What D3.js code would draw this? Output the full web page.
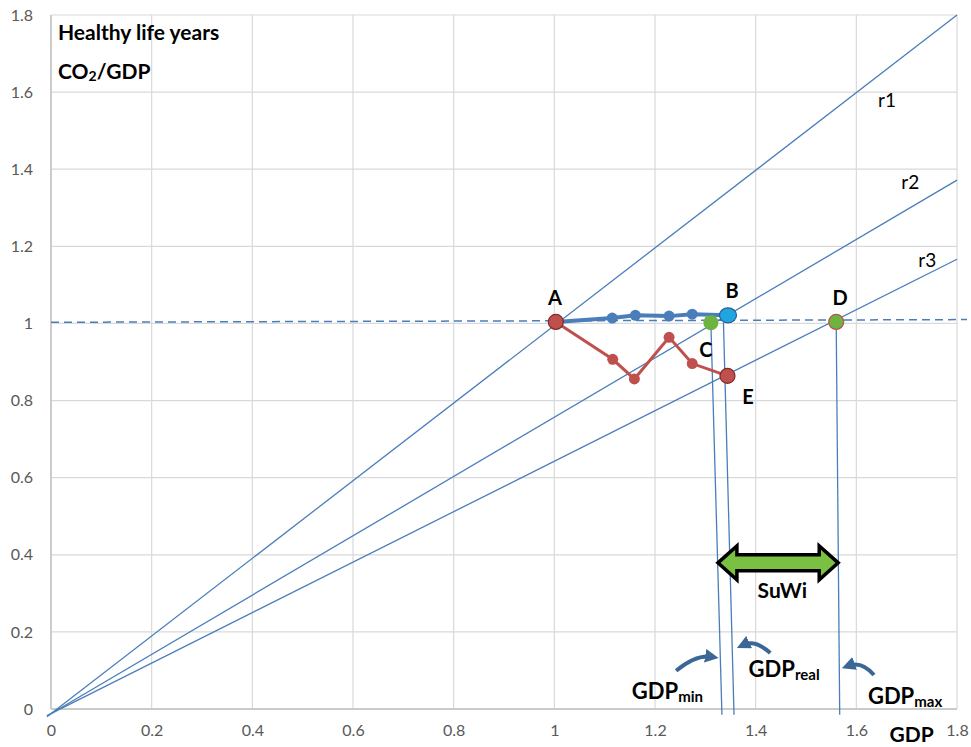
<!DOCTYPE html>
<html><head><meta charset="utf-8">
<script src="https://cdn.jsdelivr.net/npm/d3@7"></script>
<style>body{margin:0;background:#fff}svg{display:block}text{font-family:Lato,"Open Sans",sans-serif}</style>
</head><body>
<svg id="chart" width="971" height="747"></svg>
<script>
// ---- data ----
const xTicks = [0,0.2,0.4,0.6,0.8,1,1.2,1.4,1.6,1.8];
const yTicks = [0,0.2,0.4,0.6,0.8,1,1.2,1.4,1.6,1.8];
const tickLabels = ["0","0.2","0.4","0.6","0.8","1","1.2","1.4","1.6","1.8"];
const rayNames = ["r1","r2","r3"];
const raySlopes = [1.0, 0.762, 0.648];
const rayStart = [-0.008, -0.008, -0.008];
const rayEnd = [1.8, 1.8, 1.8];
const baseline = [[0,1.003],[1.82,1.01]];
const blueSeries = [[1.003,1.004],[1.115,1.014],[1.161,1.021],[1.228,1.019],[1.274,1.024],[1.345,1.021]];
const redSeries = [[1.003,1.004],[1.116,0.907],[1.159,0.856],[1.228,0.964],[1.274,0.896],[1.344,0.864]];
const pointNames = ["A","B","C","D","E"];
const pointX = [1.003,1.345,1.311,1.560,1.344];
const pointY = [1.004,1.021,1.002,1.004,0.864];
const pointFill = ["#C0504D","#1FA5E0","#6DB33F","#6DB33F","#C0504D"];
const pointStroke = ["#7F2A28","#2A5F8F","none","#C0504D","#7F2A28"];
const labelX = [1.001,1.353,1.301,1.568,1.385];
const labelY = [1.068,1.087,0.934,1.068,0.812];
const rayLabelX = [1.661,1.707,1.741];
const rayLabelY = [1.582,1.369,1.167];
const dropLines = [
  [[1.311,1.002],[1.333,-0.015]],
  [[1.336,1.003],[1.357,-0.015]],
  [[1.560,1.003],[1.567,-0.015]]
];
const suwi = {x0:1.325, x1:1.564, y:0.379, label:"SuWi", lx:1.453, ly:0.309};
const gdpLabels = [
  {main:"GDP", sub:"min", x:1.154, y:0.049},
  {main:"GDP", sub:"real", x:1.386, y:0.106},
  {main:"GDP", sub:"max", x:1.623, y:0.036}
];
const curvedArrows = [
  [[1.242,0.099],[1.282,0.142],[1.325,0.135]],
  [[1.429,0.145],[1.399,0.181],[1.363,0.166]],
  [[1.635,0.088],[1.611,0.125],[1.572,0.112]]
];

// ---- scales ----
const svg = d3.select("#chart");
const x = d3.scaleLinear().domain([0,1.8]).range([51,957]);
const y = d3.scaleLinear().domain([0,1.8]).range([709,15]);

// grid
const g = svg.append("g");
g.selectAll("line.vg").data(xTicks).join("line")
  .attr("x1",d=>x(d)).attr("x2",d=>x(d)).attr("y1",y(0)).attr("y2",y(1.8))
  .attr("stroke","#D9D9D9").attr("stroke-width",1.2);
g.selectAll("line.hg").data(yTicks).join("line")
  .attr("y1",d=>y(d)).attr("y2",d=>y(d)).attr("x1",x(0)).attr("x2",x(1.8))
  .attr("stroke","#D9D9D9").attr("stroke-width",1.2);
g.append("line").attr("x1",x(0)).attr("x2",x(1.8)).attr("y1",y(0)).attr("y2",y(0)).attr("stroke","#BFBFBF").attr("stroke-width",1.3);
g.append("line").attr("x1",x(0)).attr("x2",x(0)).attr("y1",y(0)).attr("y2",y(1.8)).attr("stroke","#BFBFBF").attr("stroke-width",1.3);

// axes tick labels via d3 axes
const xAxis = d3.axisBottom(x).tickValues(xTicks).tickFormat((d,i)=>tickLabels[i]).tickSize(0).tickPadding(16);
const yAxis = d3.axisLeft(y).tickValues(yTicks).tickFormat((d,i)=>tickLabels[i]).tickSize(0).tickPadding(18);
const gx = svg.append("g").attr("transform",`translate(0,${y(0)})`).call(xAxis);
const gy = svg.append("g").attr("transform",`translate(${x(0)},0)`).call(yAxis);
[gx,gy].forEach(a=>{a.select(".domain").remove();
  a.selectAll("text").attr("fill","#595959").style("font-size","16px").style("font-family","Lato,sans-serif");});

// rays
const line = d3.line().x(d=>x(d[0])).y(d=>y(d[1]));
raySlopes.forEach((s,i)=>{
  svg.append("path").attr("d",line([[rayStart[i],rayStart[i]*s - 0.012],[rayEnd[i],rayEnd[i]*s]]))
   .attr("fill","none").attr("stroke","#4A7EBB").attr("stroke-width",1.3);
});
svg.append("path").attr("d",line(baseline)).attr("fill","none").attr("stroke","#4A7EBB")
  .attr("stroke-width",1.5).attr("stroke-dasharray","8,5");
dropLines.forEach(dl=>svg.append("path").attr("d",line(dl)).attr("fill","none").attr("stroke","#4A7EBB").attr("stroke-width",1.3));

// red series
svg.append("path").attr("d",line(redSeries)).attr("fill","none").attr("stroke","#C0504D").attr("stroke-width",3);
svg.selectAll("circle.red").data(redSeries.slice(1,-1)).join("circle")
  .attr("cx",d=>x(d[0])).attr("cy",d=>y(d[1])).attr("r",5.5).attr("fill","#C0504D");
// blue series
svg.append("path").attr("d",line(blueSeries)).attr("fill","none").attr("stroke","#4A7EBB").attr("stroke-width",4);
svg.selectAll("circle.blue").data(blueSeries.slice(1,-1)).join("circle")
  .attr("cx",d=>x(d[0])).attr("cy",d=>y(d[1])).attr("r",5.5).attr("fill","#4A7EBB");

// named points
pointNames.forEach((n,i)=>{
  svg.append("ellipse").attr("cx",x(pointX[i])).attr("cy",y(pointY[i]))
    .attr("rx", n==="B"?8.5:7.5).attr("ry",7.5)
    .attr("fill",pointFill[i]).attr("stroke",pointStroke[i]).attr("stroke-width",1.2);
  svg.append("text").attr("x",x(labelX[i])).attr("y",y(labelY[i])).attr("text-anchor","middle")
    .attr("dominant-baseline","central").style("font-size","20px").style("font-weight","bold").text(n);
});
rayNames.forEach((n,i)=>svg.append("text").attr("x",x(rayLabelX[i])).attr("y",y(rayLabelY[i]))
  .attr("text-anchor","middle").attr("dominant-baseline","central").style("font-size","19px").text(n));

// SuWi double arrow
{
  const x0=x(suwi.x0), x1=x(suwi.x1), yc=y(suwi.y), hl=19, hh=17, sh=8;
  const p = [[x0,yc],[x0+hl,yc-hh],[x0+hl,yc-sh],[x1-hl,yc-sh],[x1-hl,yc-hh],[x1,yc],
             [x1-hl,yc+hh],[x1-hl,yc+sh],[x0+hl,yc+sh],[x0+hl,yc+hh]];
  svg.append("path").attr("d","M"+p.map(d=>d.join(",")).join("L")+"Z")
    .attr("fill","#7AC143").attr("stroke","#000").attr("stroke-width",3.5).attr("stroke-linejoin","miter");
  svg.append("text").attr("x",x(suwi.lx)).attr("y",y(suwi.ly)).attr("text-anchor","middle")
    .attr("dominant-baseline","central").style("font-size","21px").style("font-weight","bold").text(suwi.label);
}

// curved arrows
const defs = svg.append("defs");
defs.append("marker").attr("id","ah").attr("viewBox","0 0 10 10").attr("refX",5).attr("refY",5)
  .attr("markerWidth",3.4).attr("markerHeight",3.4).attr("orient","auto")
  .append("path").attr("d","M0,0L10,5L0,10Z").attr("fill","#3B6796");
curvedArrows.forEach(c=>{
  const [a,b,e]=c;
  svg.append("path").attr("d",`M${x(a[0])},${y(a[1])}Q${x(b[0])},${y(b[1])} ${x(e[0])-(x(e[0])>x(a[0])?6:-6)},${y(e[1])}`)
    .attr("fill","none").attr("stroke","#3B6796").attr("stroke-width",4).attr("marker-end","url(#ah)");
});

// GDP labels
gdpLabels.forEach(l=>{
  const t = svg.append("text").attr("x",x(l.x)).attr("y",y(l.y)).attr("dominant-baseline","central")
    .style("font-size","22px").style("font-weight","bold");
  t.append("tspan").text(l.main);
  t.append("tspan").attr("dy",6).style("font-size","15px").text(l.sub);
});

// axis titles
svg.append("text").attr("x",x(1.71)).attr("y",y(0)+24).attr("text-anchor","middle").attr("dominant-baseline","central")
  .style("font-size","21px").style("font-weight","bold").text("GDP");
svg.append("text").attr("x",x(0.0139)).attr("y",y(1.758)).attr("dominant-baseline","central")
  .style("font-size","21px").style("font-weight","bold").text("Healthy life years");
{
  const t = svg.append("text").attr("x",x(0.0139)).attr("y",y(1.657)).attr("dominant-baseline","central")
    .style("font-size","21px").style("font-weight","bold");
  t.append("tspan").text("CO");
  t.append("tspan").attr("dy",5).style("font-size","14px").text("2");
  t.append("tspan").attr("dy",-5).text("/GDP");
}
</script>
</body></html>
